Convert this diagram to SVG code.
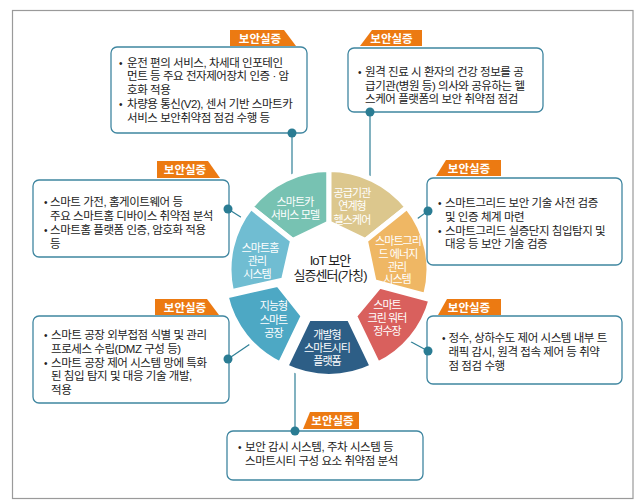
<svg xmlns="http://www.w3.org/2000/svg" width="639" height="502" viewBox="0 0 639 502">
<style>
.frame{fill:none;stroke:#9a9a9a;stroke-width:1.2}
.box{fill:#fff;stroke:#3f86a0;stroke-width:1.3}
.badge{fill:#ec7a12}
.bt{font-family:"Liberation Sans","Noto Sans CJK KR",sans-serif;font-size:11.5px;font-weight:bold;fill:#fff;text-anchor:middle}
.tx{font-family:"Liberation Sans","Noto Sans CJK KR",sans-serif;font-size:11.5px;fill:#222;letter-spacing:-0.45px}
.bu{font-size:10px;letter-spacing:0}
.seg{stroke:#fff;stroke-width:5;stroke-linejoin:round}
.st{font-family:"Liberation Sans","Noto Sans CJK KR",sans-serif;font-size:11px;fill:#fff;text-anchor:middle;letter-spacing:-0.9px}
.ct{font-family:"Liberation Sans","Noto Sans CJK KR",sans-serif;font-size:13px;fill:#222;text-anchor:middle;letter-spacing:-0.9px}
.con{stroke:#2e7f96;stroke-width:1.2;fill:none}
.dot{fill:#2a7c93}
</style>
<rect class="frame" x="12.5" y="10.5" width="620.5" height="488"/>

<g id="connectors">
<line class="con" x1="292" y1="133" x2="292" y2="183"/>
<line class="con" x1="370" y1="112" x2="370" y2="184"/>
<line class="con" x1="228" y1="209" x2="247" y2="221"/>
<line class="con" x1="428" y1="211" x2="410" y2="224"/>
<line class="con" x1="228" y1="359" x2="256" y2="340"/>
<line class="con" x1="428" y1="351" x2="402" y2="337"/>
<line class="con" x1="295" y1="431" x2="295" y2="366"/>
</g>

<g id="wheel" transform="translate(329,269.5)">
<g id="seg-car"><path class="seg" fill="#77c2b2" d="M-36.43,-29.05 L-78.18,-62.35 A100,100 0 0 1 0,-100 L0,-46.6 Z"/></g>
<g id="seg-health"><path class="seg" fill="#dcc78d" d="M0,-46.6 L0,-100 A100,100 0 0 1 78.18,-62.35 L36.43,-29.05 Z"/></g>
<g id="seg-grid"><path class="seg" fill="#efb764" d="M36.43,-29.05 L78.18,-62.35 A100,100 0 0 1 96.59,25.88 L45.01,12.06 Z"/></g>
<g id="seg-water" transform="translate(5.4,4.5)"><path class="seg" fill="#d9605d" d="M45.01,12.06 L96.59,25.88 A100,100 0 0 1 43.39,90.10 L20.22,41.99 Z"/></g>
<g id="seg-city" transform="translate(0,7)"><path class="seg" fill="#2d5e86" d="M20.22,41.99 L43.39,90.10 A100,100 0 0 1 -43.39,90.10 L-20.22,41.99 Z"/></g>
<g id="seg-factory" transform="translate(-5.5,4.4)"><path class="seg" fill="#4da8c4" d="M-20.22,41.99 L-43.39,90.10 A100,100 0 0 1 -97.49,22.25 L-45.43,10.37 Z"/></g>
<g id="seg-home"><path class="seg" fill="#70bdd2" d="M-45.43,10.37 L-97.49,22.25 A100,100 0 0 1 -78.18,-62.35 L-36.43,-29.05 Z"/></g>
</g>

<g id="wheel-labels">
<text class="st"><tspan x="295" y="205.5">스마트카</tspan><tspan x="295" y="219">서비스 모델</tspan></text>
<text class="st"><tspan x="352" y="197">공급기관</tspan><tspan x="352" y="210.4">연계형</tspan><tspan x="352" y="223.5">헬스케어</tspan></text>
<text class="st"><tspan x="398" y="244.6">스마트그리</tspan><tspan x="398" y="257.8">드 에너지</tspan><tspan x="397" y="271">관리</tspan><tspan x="397" y="283.4">시스템</tspan></text>
<text class="st"><tspan x="387" y="308.7">스마트</tspan><tspan x="387" y="322">크린 워터</tspan><tspan x="387" y="335.4">정수장</tspan></text>
<text class="st"><tspan x="327" y="338.7">개발형</tspan><tspan x="327" y="352">스마트시티</tspan><tspan x="327" y="365.4">플랫폼</tspan></text>
<text class="st"><tspan x="273.5" y="310.4">지능형</tspan><tspan x="273.5" y="323.7">스마트</tspan><tspan x="273.5" y="337">공장</tspan></text>
<text class="st"><tspan x="260" y="252">스마트홈</tspan><tspan x="257" y="265.4">관리</tspan><tspan x="257" y="277.5">시스템</tspan></text>
<text class="ct"><tspan x="330" y="264.5">IoT 보안</tspan><tspan x="330" y="279.5">실증센터(가칭)</tspan></text>
</g>

<g id="box-car">
<rect class="box" x="111" y="47" width="196" height="86" rx="6"/>
<polygon class="badge" points="230,30 284,30 296,46 230,46"/>
<text class="bt" x="260" y="42.5">보안실증</text>
<text class="tx"><tspan class="bu" x="119" y="66.5">•</tspan><tspan x="127" y="66.5">운전 편의 서비스, 차세대 인포테인</tspan><tspan x="127" y="80.3">먼트 등 주요 전자제어장치 인증 · 암</tspan><tspan x="127" y="94.1">호화 적용</tspan><tspan class="bu" x="119" y="107.9">•</tspan><tspan x="127" y="107.9">차량용 통신(V2), 센서 기반 스마트카</tspan><tspan x="127" y="121.7">서비스 보안취약점 점검 수행 등</tspan></text>
<circle class="dot" cx="292" cy="133" r="4.5"/>
</g>

<g id="box-health">
<rect class="box" x="348" y="48" width="195" height="64" rx="6"/>
<polygon class="badge" points="372,30 422,30 422,46 360,46"/>
<text class="bt" x="391.5" y="42.5">보안실증</text>
<text class="tx"><tspan class="bu" x="358" y="75.7">•</tspan><tspan x="365" y="75.7">원격 진료 시 환자의 건강 정보를 공</tspan><tspan x="365" y="89.5">급기관(병원 등) 의사와 공유하는 헬</tspan><tspan x="365" y="103.3">스케어 플랫폼의 보안 취약점 점검</tspan></text>
<circle class="dot" cx="370" cy="112" r="4.5"/>
</g>

<g id="box-home">
<rect class="box" x="33" y="180" width="196" height="77" rx="6"/>
<polygon class="badge" points="157,161 208,161 220,178 157,178"/>
<text class="bt" x="185" y="174">보안실증</text>
<text class="tx"><tspan class="bu" x="44" y="206.3">•</tspan><tspan x="50" y="206.3">스마트 가전, 홈게이트웨어 등</tspan><tspan x="50" y="220">주요 스마트홈 디바이스 취약점 분석</tspan><tspan class="bu" x="44" y="233.8">•</tspan><tspan x="50" y="233.8">스마트홈 플랫폼 인증, 암호화 적용</tspan><tspan x="50" y="247.6">등</tspan></text>
<circle class="dot" cx="228" cy="209" r="4.5"/>
</g>

<g id="box-grid">
<rect class="box" x="427" y="178" width="195" height="87" rx="6"/>
<polygon class="badge" points="446,160 501,160 501,176 436,176"/>
<text class="bt" x="469" y="172.5">보안실증</text>
<text class="tx"><tspan class="bu" x="438" y="207.3">•</tspan><tspan x="445" y="207.3">스마트그리드 보안 기술 사전 검증</tspan><tspan x="445" y="221">및 인증 체계 마련</tspan><tspan class="bu" x="438" y="234.6">•</tspan><tspan x="445" y="234.6">스마트그리드 실증단지 침입탐지 및</tspan><tspan x="445" y="248.3">대응 등 보안 기술 검증</tspan></text>
<circle class="dot" cx="428" cy="211" r="4.5"/>
</g>

<g id="box-factory">
<rect class="box" x="33" y="316" width="196" height="87" rx="6"/>
<polygon class="badge" points="155,299 207,299 219,315 155,315"/>
<text class="bt" x="185" y="311.5">보안실증</text>
<text class="tx"><tspan class="bu" x="44" y="339">•</tspan><tspan x="51" y="339">스마트 공장 외부접점 식별 및 관리</tspan><tspan x="51" y="352.8">프로세스 수립(DMZ 구성 등)</tspan><tspan class="bu" x="44" y="366.6">•</tspan><tspan x="51" y="366.6">스마트 공장 제어 시스템 망에 특화</tspan><tspan x="51" y="380.4">된 침입 탐지 및 대응 기술 개발,</tspan><tspan x="51" y="394">적용</tspan></text>
<circle class="dot" cx="228" cy="359" r="4.5"/>
</g>

<g id="box-water">
<rect class="box" x="427" y="316" width="195" height="68" rx="6"/>
<polygon class="badge" points="447,299 501,299 501,315 438,315"/>
<text class="bt" x="469" y="311.5">보안실증</text>
<text class="tx"><tspan class="bu" x="442" y="342.3">•</tspan><tspan x="448.5" y="342.3">정수, 상하수도 제어 시스템 내부 트</tspan><tspan x="448.5" y="356">래픽 감시, 원격 접속 제어 등 취약</tspan><tspan x="448.5" y="369.8">점 점검 수행</tspan></text>
<circle class="dot" cx="428" cy="351" r="4.5"/>
</g>

<g id="box-city">
<rect class="box" x="227" y="431" width="196" height="49" rx="6"/>
<polygon class="badge" points="310,412 359,412 359,429 303,429"/>
<text class="bt" x="332.5" y="425">보안실증</text>
<text class="tx"><tspan class="bu" x="238" y="451.3">•</tspan><tspan x="245" y="451.3">보안 감시 시스템, 주차 시스템 등</tspan><tspan x="245" y="464.5">스마트시티 구성 요소 취약점 분석</tspan></text>
<circle class="dot" cx="295" cy="431" r="4.5"/>
</g>
</svg>
